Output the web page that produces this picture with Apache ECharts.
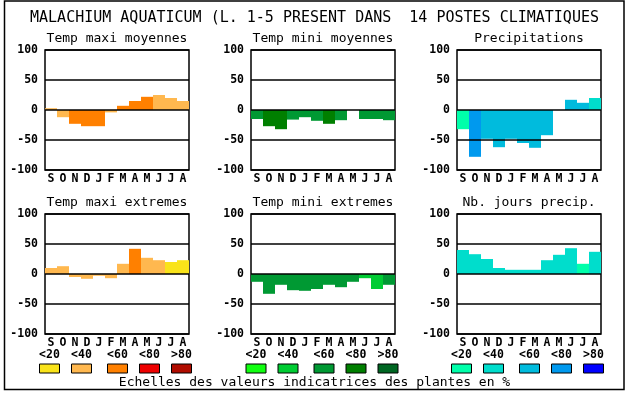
<!DOCTYPE html>
<html><head><meta charset="utf-8">
<script src="https://cdn.jsdelivr.net/npm/echarts@6/dist/echarts.min.js"></script>
<style>html,body{margin:0;padding:0;background:#fff}#c{width:630px;height:394px}</style>
</head><body><div id="c"></div>
<script>
// ---------- data ----------
const months = ['S','O','N','D','J','F','M','A','M','J','J','A'];
const mainTitle = 'MALACHIUM AQUATICUM (L. 1-5 PRESENT DANS  14 POSTES CLIMATIQUES';
const footer = 'Echelles des valeurs indicatrices des plantes en %';
const panelTitles = ['Temp maxi moyennes','Temp mini moyennes','Precipitations',
                     'Temp maxi extremes','Temp mini extremes','Nb. jours precip.'];
const classLabels = ['<20','<40','<60','<80','>80'];
const yTicks = [-100,-50,0,50,100];

const tmaxMoy    = [3,-12,-23,-27,-27,-4,7,15,22,25,20,15];
const tmaxMoyCls = [1,1,2,2,2,1,2,2,2,1,1,1];
const tminMoy    = [-15,-27,-32,-16,-12,-18,-23,-17,null,-15,-15,-17];
const tminMoyCls = [2,3,3,2,2,2,3,2,2,2,2,2];
const precip     = [-32,-78,-48,-62,-48,-55,-63,-42,null,17,12,20];
const precipCls  = [0,3,2,2,2,2,2,2,2,2,2,1];
const tmaxExt    = [10,13,-5,-8,-3,-7,17,42,27,23,20,23];
const tmaxExtCls = [1,1,1,1,1,1,1,2,1,1,0,0];
const tminExt    = [-13,-33,-18,-27,-28,-25,-18,-22,-13,-7,-25,-18];
const tminExtCls = [2,2,2,2,2,2,2,2,2,1,1,2];
const nbJours    = [40,33,25,10,7,7,7,23,32,43,17,37];
const nbJoursCls = [1,1,1,1,1,1,1,1,1,1,0,1];

// ---------- styles ----------
const orangeScale = ['#f9e31a','#ffb84f','#ff8000','#ee0000','#b00c00'];
const greenScale  = ['#11ff11','#00cc33','#009933','#007f00','#006622'];
const blueScale   = ['#00ffaa','#00ddcc','#00bbdd','#0099ee','#0000ff'];
const scales = [orangeScale, greenScale, blueScale];

const panels = [
  {values:tmaxMoy, cls:tmaxMoyCls, scale:orangeScale},
  {values:tminMoy, cls:tminMoyCls, scale:greenScale},
  {values:precip,  cls:precipCls,  scale:blueScale},
  {values:tmaxExt, cls:tmaxExtCls, scale:orangeScale},
  {values:tminExt, cls:tminExtCls, scale:greenScale},
  {values:nbJours, cls:nbJoursCls, scale:blueScale}
];

const colLeft = [45, 251, 457];
const rowTop = [50, 214];
const W = 144, H = 120;
const titleY = [39, 202.5];
const legendX = [39.5, 246, 451.5];
const legendOff = [0, 32, 68, 100, 132];
const MONO = '"DejaVu Sans Mono", monospace';

const grid = [], xAxis = [], yAxis = [], series = [], graphic = [];
panels.forEach((p, i) => {
  const c = i % 3, r = Math.floor(i / 3);
  grid.push({left: colLeft[c], top: rowTop[r], width: W, height: H, show: true,
    backgroundColor: '#fff', borderColor: '#000', borderWidth: 1.5, containLabel: false});
  xAxis.push({type: 'category', gridIndex: i, data: months, boundaryGap: true,
    axisLine: {show: false}, axisTick: {show: false}, splitLine: {show: false},
    axisLabel: {interval: 0, margin: 3, color: '#000', fontFamily: MONO, fontWeight: 'bold', fontSize: 11.5}});
  yAxis.push({type: 'value', gridIndex: i, min: yTicks[0], max: yTicks[yTicks.length-1], interval: 50, z: 3,
    axisLine: {show: false}, axisTick: {show: false},
    splitLine: {show: true, lineStyle: {color: '#000', width: 1.5}},
    axisLabel: {margin: 7, color: '#000', fontFamily: MONO, fontWeight: 'bold', fontSize: 11.5}});
  series.push({type: 'bar', xAxisIndex: i, yAxisIndex: i, barCategoryGap: '0%', barGap: '0%',
    data: p.values.map((v, j) => v == null ? '-' : {value: v, itemStyle: {color: p.scale[p.cls[j]]}})});
  graphic.push({type: 'text', left: null, x: colLeft[c] + W / 2, y: titleY[r], z: 10,
    style: {text: panelTitles[i], font: '13px ' + MONO, fill: '#000', textAlign: 'center', textVerticalAlign: 'middle'}});
});

// outer frame
graphic.push({type: 'rect', shape: {x: 4.5, y: 1, width: 619.5, height: 388.5}, z: 0,
  style: {fill: 'none', stroke: '#000', lineWidth: 1.5}});
graphic.push({type: 'text', x: 314.5, y: 18, z: 10,
  style: {text: mainTitle, font: '15px ' + MONO, fill: '#000', textAlign: 'center', textVerticalAlign: 'middle'}});
// legend
scales.forEach((sc, g) => {
  sc.forEach((col, k) => {
    const x = legendX[g] + legendOff[k];
    graphic.push({type: 'rect', shape: {x: x, y: 364, width: 20, height: 9}, z: 10,
      style: {fill: col, stroke: '#000', lineWidth: 1}});
    graphic.push({type: 'text', x: x + 10, y: 355, z: 10,
      style: {text: classLabels[k], font: 'bold 11.5px ' + MONO, fill: '#000', textAlign: 'center', textVerticalAlign: 'middle'}});
  });
});
graphic.push({type: 'text', x: 314.5, y: 382.5, z: 10,
  style: {text: footer, font: '13px ' + MONO, fill: '#000', textAlign: 'center', textVerticalAlign: 'middle'}});

const chart = echarts.init(document.getElementById('c'), null, {renderer: 'canvas'});
chart.setOption({animation: false, backgroundColor: '#fff', grid, xAxis, yAxis, series, graphic});
</script></body></html>
